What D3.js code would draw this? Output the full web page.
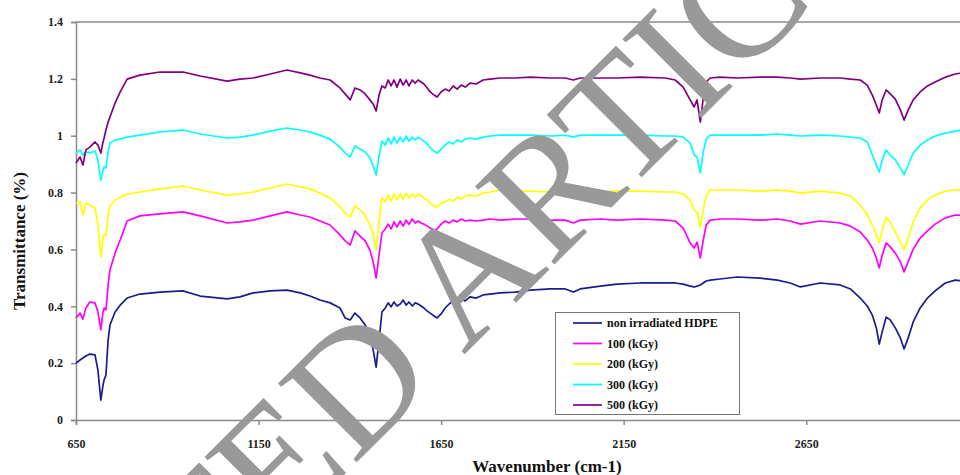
<!DOCTYPE html>
<html>
<head>
<meta charset="utf-8">
<script src="https://cdn.jsdelivr.net/npm/d3@7/dist/d3.min.js"></script>
<style>
  html, body { margin: 0; padding: 0; background: #fff; }
  svg { display: block; }
  text { font-family: "Liberation Serif", "Times New Roman", serif; }
</style>
</head>
<body>
<svg id="chart" width="960" height="475"></svg>
<script>
// FTIR transmittance spectra of HDPE at several irradiation doses
const wavenumbers = [
  650, 661, 669, 677, 688, 702, 710, 718, 724, 727, 732, 738, 743, 757, 771, 790, 825, 880, 943, 990,
  1064, 1099, 1135, 1182, 1228, 1264, 1291, 1318, 1346, 1373, 1387, 1401, 1414, 1428, 1442, 1455, 1464, 1472, 1480, 1488,
  1497, 1505, 1513, 1521, 1529, 1538, 1546, 1554, 1562, 1571, 1579, 1587, 1595, 1603, 1612, 1620, 1631, 1639, 1650, 1661,
  1672, 1683, 1694, 1705, 1716, 1729, 1746, 1765, 1784, 1812, 1853, 1894, 1949, 1990, 2012, 2031, 2086, 2132, 2195, 2264,
  2291, 2313, 2332, 2343, 2351, 2360, 2368, 2376, 2387, 2414, 2461, 2524, 2571, 2606, 2634, 2688, 2743, 2771, 2798, 2817,
  2831, 2842, 2850, 2858, 2869, 2880, 2894, 2908, 2918, 2929, 2943, 2962, 2982, 3003, 3031, 3058, 3077
];

const hdpe = [
  0.200, 0.211, 0.218, 0.225, 0.232, 0.229, 0.176, 0.070, 0.123, 0.141, 0.158, 0.281, 0.334, 0.380, 0.404, 0.429, 0.443, 0.450, 0.454, 0.436,
  0.426, 0.433, 0.447, 0.454, 0.457, 0.447, 0.436, 0.422, 0.412, 0.394, 0.359, 0.352, 0.376, 0.359, 0.334, 0.299, 0.246, 0.186, 0.281, 0.380,
  0.394, 0.412, 0.398, 0.415, 0.401, 0.408, 0.422, 0.404, 0.415, 0.401, 0.412, 0.408, 0.401, 0.394, 0.383, 0.376, 0.366, 0.359, 0.373, 0.394,
  0.408, 0.419, 0.412, 0.426, 0.419, 0.433, 0.429, 0.440, 0.443, 0.447, 0.450, 0.457, 0.461, 0.461, 0.450, 0.461, 0.471, 0.478, 0.482, 0.482,
  0.482, 0.478, 0.471, 0.468, 0.471, 0.475, 0.482, 0.489, 0.492, 0.496, 0.503, 0.499, 0.492, 0.482, 0.468, 0.482, 0.475, 0.461, 0.429, 0.401,
  0.369, 0.324, 0.267, 0.310, 0.362, 0.352, 0.324, 0.288, 0.250, 0.288, 0.345, 0.394, 0.429, 0.454, 0.482, 0.492, 0.489
];

const kgy100 = [
  0.359, 0.376, 0.355, 0.394, 0.415, 0.412, 0.380, 0.317, 0.380, 0.394, 0.387, 0.475, 0.528, 0.587, 0.633, 0.700, 0.718, 0.725, 0.732, 0.718,
  0.693, 0.697, 0.703, 0.718, 0.732, 0.721, 0.714, 0.700, 0.686, 0.651, 0.630, 0.616, 0.665, 0.647, 0.630, 0.598, 0.556, 0.499, 0.580, 0.658,
  0.672, 0.689, 0.672, 0.697, 0.679, 0.700, 0.682, 0.703, 0.689, 0.707, 0.693, 0.700, 0.693, 0.689, 0.682, 0.675, 0.668, 0.672, 0.689, 0.700,
  0.693, 0.703, 0.697, 0.707, 0.700, 0.703, 0.700, 0.703, 0.707, 0.703, 0.707, 0.707, 0.703, 0.703, 0.693, 0.703, 0.707, 0.703, 0.707, 0.703,
  0.700, 0.675, 0.623, 0.605, 0.626, 0.570, 0.633, 0.686, 0.703, 0.707, 0.707, 0.703, 0.707, 0.700, 0.689, 0.700, 0.693, 0.682, 0.661, 0.633,
  0.605, 0.570, 0.535, 0.580, 0.623, 0.609, 0.587, 0.556, 0.521, 0.556, 0.601, 0.640, 0.665, 0.689, 0.711, 0.721, 0.721
];

const kgy200 = [
  0.763, 0.767, 0.721, 0.763, 0.756, 0.746, 0.686, 0.573, 0.640, 0.651, 0.647, 0.721, 0.753, 0.774, 0.784, 0.795, 0.802, 0.813, 0.823, 0.809,
  0.791, 0.795, 0.802, 0.816, 0.830, 0.820, 0.813, 0.798, 0.781, 0.749, 0.728, 0.714, 0.753, 0.739, 0.721, 0.686, 0.651, 0.598, 0.696, 0.781,
  0.767, 0.791, 0.770, 0.795, 0.774, 0.795, 0.777, 0.798, 0.781, 0.795, 0.784, 0.795, 0.788, 0.781, 0.774, 0.763, 0.753, 0.749, 0.763, 0.767,
  0.777, 0.770, 0.784, 0.777, 0.788, 0.791, 0.788, 0.798, 0.802, 0.809, 0.805, 0.805, 0.802, 0.805, 0.795, 0.802, 0.802, 0.805, 0.805, 0.802,
  0.802, 0.795, 0.774, 0.739, 0.732, 0.679, 0.739, 0.788, 0.809, 0.809, 0.809, 0.805, 0.809, 0.805, 0.798, 0.805, 0.798, 0.788, 0.756, 0.721,
  0.686, 0.651, 0.623, 0.668, 0.714, 0.696, 0.661, 0.626, 0.598, 0.640, 0.696, 0.746, 0.774, 0.791, 0.805, 0.809, 0.809
];

const kgy300 = [
  0.939, 0.950, 0.932, 0.943, 0.939, 0.946, 0.915, 0.844, 0.879, 0.890, 0.886, 0.943, 0.974, 0.985, 0.988, 0.995, 1.002, 1.013, 1.020, 1.006,
  0.992, 0.995, 1.002, 1.016, 1.027, 1.020, 1.013, 1.002, 0.988, 0.960, 0.939, 0.925, 0.964, 0.953, 0.943, 0.922, 0.893, 0.862, 0.929, 0.981,
  0.967, 0.992, 0.971, 0.995, 0.974, 0.995, 0.978, 0.999, 0.981, 0.995, 0.985, 0.995, 0.988, 0.981, 0.971, 0.957, 0.946, 0.939, 0.953, 0.967,
  0.978, 0.971, 0.985, 0.978, 0.988, 0.992, 0.988, 0.995, 0.999, 1.002, 1.002, 1.002, 0.999, 1.002, 0.995, 1.002, 1.002, 1.002, 1.002, 0.999,
  0.999, 0.995, 0.974, 0.932, 0.925, 0.869, 0.943, 0.988, 1.002, 1.002, 1.002, 1.002, 1.006, 1.002, 0.999, 1.002, 0.999, 0.995, 0.992, 0.978,
  0.932, 0.897, 0.872, 0.915, 0.950, 0.932, 0.915, 0.886, 0.862, 0.897, 0.939, 0.967, 0.985, 0.999, 1.009, 1.016, 1.020
];

const kgy500 = [
  0.904, 0.925, 0.897, 0.950, 0.960, 0.978, 0.967, 0.939, 0.978, 0.992, 1.020, 1.048, 1.066, 1.115, 1.154, 1.199, 1.213, 1.224, 1.224, 1.210,
  1.192, 1.199, 1.203, 1.217, 1.231, 1.221, 1.213, 1.203, 1.196, 1.168, 1.147, 1.126, 1.168, 1.161, 1.147, 1.126, 1.111, 1.087, 1.143, 1.175,
  1.168, 1.196, 1.175, 1.196, 1.171, 1.199, 1.178, 1.196, 1.175, 1.196, 1.185, 1.196, 1.189, 1.182, 1.168, 1.154, 1.143, 1.136, 1.154, 1.164,
  1.157, 1.175, 1.164, 1.178, 1.171, 1.185, 1.182, 1.196, 1.199, 1.203, 1.203, 1.206, 1.203, 1.203, 1.196, 1.203, 1.203, 1.203, 1.206, 1.203,
  1.196, 1.171, 1.126, 1.101, 1.126, 1.048, 1.133, 1.189, 1.203, 1.206, 1.203, 1.206, 1.206, 1.203, 1.199, 1.203, 1.203, 1.199, 1.196, 1.178,
  1.143, 1.108, 1.080, 1.126, 1.161, 1.147, 1.129, 1.090, 1.055, 1.090, 1.126, 1.154, 1.175, 1.189, 1.206, 1.217, 1.221
];

const seriesNames = ["non irradiated HDPE", "100 (kGy)", "200 (kGy)", "300 (kGy)", "500 (kGy)"];
const seriesValues = [hdpe, kgy100, kgy200, kgy300, kgy500];
const seriesColors = ["#1c1c8a", "#ff00ff", "#ffff00", "#00ffff", "#800080"];

const xTicks = [650, 1150, 1650, 2150, 2650];
const yTicks = [0, 0.2, 0.4, 0.6, 0.8, 1, 1.2, 1.4];
const xTitle = "Wavenumber (cm-1)";
const yTitle = "Transmittance (%)";
const watermark = "RETRACTED ARTICLE";

const svg = d3.select("#chart");
const plot = { left: 76, top: 22, right: 1018, bottom: 420 };

const x = d3.scaleLinear().domain([650, 3230]).range([plot.left, plot.right]);
const y = d3.scaleLinear().domain([0, 1.4]).range([plot.bottom, plot.top]);

const axisColor = "#8a8a8a";

// plot frame (top edge)
svg.append("line")
  .attr("x1", plot.left).attr("x2", plot.right)
  .attr("y1", plot.top).attr("y2", plot.top)
  .attr("stroke", axisColor).attr("stroke-width", 1.5);

// y axis
const yAxis = svg.append("g")
  .attr("transform", `translate(${plot.left},0)`)
  .call(d3.axisLeft(y).tickValues(yTicks).tickSize(5).tickPadding(8)
    .tickFormat(d => d3.format("")(Math.round(d * 10) / 10)));
yAxis.select(".domain").attr("stroke", axisColor).attr("stroke-width", 1.5);
yAxis.selectAll(".tick line").attr("stroke", axisColor).attr("stroke-width", 1.5);
yAxis.selectAll(".tick text")
  .attr("fill", "#222").style("font-size", "12px").style("font-weight", "bold")
  .style("font-family", "'Liberation Serif', serif");

// x axis
const xAxis = svg.append("g")
  .attr("transform", `translate(0,${plot.bottom})`)
  .call(d3.axisBottom(x).tickValues(xTicks).tickSize(5).tickPadding(14).tickFormat(d3.format("d")));
xAxis.select(".domain").attr("stroke", axisColor).attr("stroke-width", 1.5);
xAxis.selectAll(".tick line").attr("stroke", axisColor).attr("stroke-width", 1.5);
xAxis.selectAll(".tick text")
  .attr("fill", "#222").style("font-size", "12px").style("font-weight", "bold")
  .style("font-family", "'Liberation Serif', serif");

// axis titles
svg.append("text")
  .attr("x", 547).attr("y", 472)
  .attr("text-anchor", "middle")
  .style("font-size", "17px").style("font-weight", "bold").attr("fill", "#111")
  .text(xTitle);

svg.append("text")
  .attr("transform", "translate(25,241) rotate(-90)")
  .attr("text-anchor", "middle")
  .style("font-size", "17px").style("font-weight", "bold").attr("fill", "#111")
  .text(yTitle);

// spectra
const line = d3.line()
  .x((d, i) => x(wavenumbers[i]))
  .y(d => y(d));

svg.append("g").selectAll("path")
  .data(seriesValues)
  .join("path")
  .attr("d", d => line(d))
  .attr("fill", "none")
  .attr("stroke", (d, i) => seriesColors[i])
  .attr("stroke-width", 1.7)
  .attr("stroke-linejoin", "round");

// legend
const legend = svg.append("g");
legend.append("rect")
  .attr("x", 555.5).attr("y", 312.5).attr("width", 184).attr("height", 102)
  .attr("fill", "#fff").attr("stroke", "#777").attr("stroke-width", 1);
seriesNames.forEach((name, i) => {
  const ly = 323 + i * 20.5;
  legend.append("line")
    .attr("x1", 573).attr("x2", 602).attr("y1", ly).attr("y2", ly)
    .attr("stroke", seriesColors[i]).attr("stroke-width", 1.7);
  legend.append("text")
    .attr("x", 607).attr("y", ly + 4)
    .style("font-size", "12px").style("font-weight", "bold").attr("fill", "#111")
    .text(name);
});

// diagonal watermark over the figure
svg.append("text")
  .attr("transform", "translate(348,471) rotate(-45)")
  .attr("text-anchor", "middle")
  .style("font-size", "170px")
  .attr("fill", "#999999")
  .text(watermark);
</script>
</body>
</html>
